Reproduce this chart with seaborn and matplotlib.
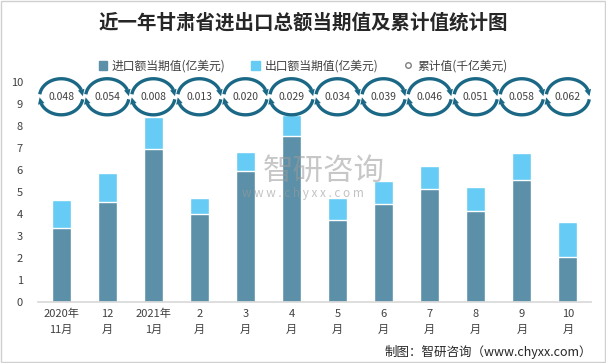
import numpy as np
import matplotlib
matplotlib.use('Agg')
import matplotlib.pyplot as plt
import matplotlib.patches as mpatches
from matplotlib.lines import Line2D
import pandas as pd
import seaborn as sns

sns.set_theme(style='white')
plt.rcParams['font.family'] = ['Noto Sans CJK SC', 'DejaVu Sans']

# Data
months = ['2020年\n11月', '12\n月', '2021年\n1月', '2\n月', '3\n月', '4\n月',
          '5\n月', '6\n月', '7\n月', '8\n月', '9\n月', '10\n月']
imports = [3.37, 4.55, 6.96, 4.01, 5.95, 7.55, 3.73, 4.46, 5.14, 4.14, 5.55, 2.05]
exports = [1.27, 1.32, 1.46, 0.72, 0.88, 0.96, 1.00, 1.05, 1.05, 1.09, 1.23, 1.59]
cumulative = ['0.048', '0.054', '0.008', '0.013', '0.020', '0.029',
              '0.034', '0.039', '0.046', '0.051', '0.058', '0.062']

c_imp = '#5B90A8'
c_exp = '#66CCF5'
c_ring = '#1B6886'

df = pd.DataFrame({'month': months, 'imp': imports, 'exp': exports})
df['total'] = df['imp'] + df['exp']

fig = plt.figure(figsize=(6.06, 3.63), dpi=100)
ax = fig.add_axes([0.063, 0.168, 0.912, 0.606])

# Stacked bars: total (light) underneath, import (dark) on top of it
sns.barplot(data=df, x='month', y='total', color=c_exp, width=0.41,
            saturation=1, ax=ax)
sns.barplot(data=df, x='month', y='imp', color=c_imp, width=0.41,
            saturation=1, ax=ax)

ax.set_ylim(0, 10)
ax.set_xlim(-0.5, len(months) - 0.5)
ax.set_yticks(range(0, 11))
ax.set_xlabel('')
ax.set_ylabel('')
ax.tick_params(axis='both', length=0, labelsize=8, colors='#404040')
ax.tick_params(axis='y', pad=11)
ax.tick_params(axis='x', pad=5)
for lbl in ax.get_xticklabels():
    lbl.set_linespacing(1.7)
for s in ['top', 'right', 'left']:
    ax.spines[s].set_visible(False)
ax.spines['bottom'].set_color('#D9D9D9')

# Cumulative value rings (two circular arrows) with labels
ring_y = 9.33
a, b = 0.47, 0.82
for i, val in enumerate(cumulative):
    for t0, t1 in [(172, 22), (352, 202)]:
        t = np.radians(np.linspace(t0, t1, 40))
        xs = i + a * np.cos(t)
        ys = ring_y + b * np.sin(t)
        ax.plot(xs, ys, color=c_ring, lw=2.4, solid_capstyle='butt', clip_on=False)
        te = np.radians(t1 - 20)
        ax.annotate('', xy=(i + a * np.cos(te), ring_y + b * np.sin(te)),
                    xytext=(xs[-1], ys[-1]),
                    arrowprops=dict(arrowstyle='-|>', color=c_ring, lw=0,
                                    mutation_scale=12, shrinkA=0, shrinkB=0),
                    annotation_clip=False)
    ax.text(i, ring_y, val, ha='center', va='center', fontsize=7.5,
            color='#404040')

# Title
fig.text(0.5, 0.938, '近一年甘肃省进出口总额当期值及累计值统计图', ha='center',
         va='center', fontsize=14, fontweight='bold', color='#262626')

# Legend
handles = [mpatches.Patch(color=c_imp, label='进口额当期值(亿美元)'),
           mpatches.Patch(color=c_exp, label='出口额当期值(亿美元)'),
           Line2D([], [], marker='o', ls='', markersize=4, markerfacecolor='white',
                  markeredgecolor='#7F7F7F', label='累计值(千亿美元)')]
fig.legend(handles=handles, loc='center', bbox_to_anchor=(0.5, 0.818), ncol=3,
           frameon=False, fontsize=8.5, handlelength=0.7, handleheight=0.7,
           columnspacing=2.2, handletextpad=0.4, labelcolor='#404040')

# Watermark
fig.text(0.535, 0.527, '智研咨询', ha='center', va='center', fontsize=22,
         color='#9A9A9A', alpha=0.55, zorder=10)
fig.text(0.5, 0.468, 'w w w . c h y x x . c o m', ha='center', va='center',
         fontsize=8.5, color='#9A9A9A', alpha=0.6, zorder=10)

# Source
fig.text(0.977, 0.03, '制图：智研咨询（www.chyxx.com）', ha='right', va='center',
         fontsize=9, color='#262626')

# Border
fig.patches.append(mpatches.Rectangle((0.001, 0.002), 0.997, 0.995,
                                      transform=fig.transFigure, fill=False,
                                      edgecolor='#D0D0D0', lw=1))

fig.savefig('out.png', dpi=100)
